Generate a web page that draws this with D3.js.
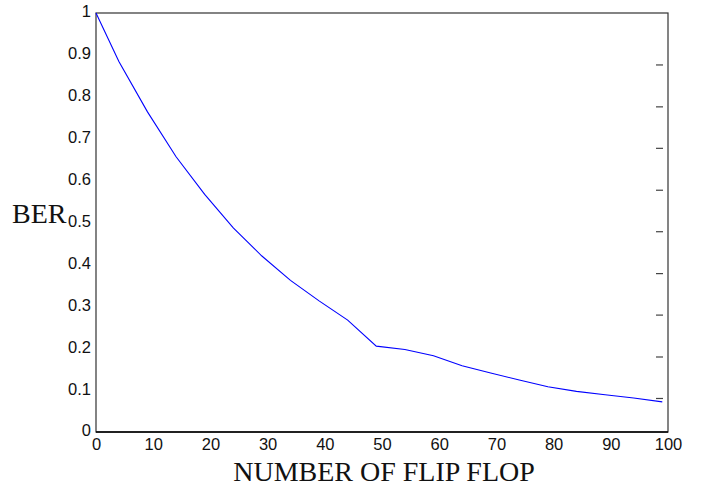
<!DOCTYPE html>
<html>
<head>
<meta charset="utf-8">
<script src="https://cdn.jsdelivr.net/npm/d3@7"></script>
<style>
  html, body { margin: 0; padding: 0; background: #fff; }
  svg { display: block; }
</style>
</head>
<body>
<svg id="chart" width="704" height="490"></svg>
<script>
const flipFlops = [0, 4, 9, 14, 19, 24, 29, 34, 39, 44, 49, 54, 59, 64, 69, 74, 79, 84, 89, 94, 99];
const berValues = [1.0, 0.884, 0.764, 0.657, 0.567, 0.487, 0.420, 0.362, 0.313, 0.267, 0.205, 0.197, 0.182, 0.158, 0.141, 0.124, 0.108, 0.097, 0.089, 0.081, 0.072];
const xTicks = [0, 10, 20, 30, 40, 50, 60, 70, 80, 90, 100];
const yTicks = [0, 0.1, 0.2, 0.3, 0.4, 0.5, 0.6, 0.7, 0.8, 0.9, 1];
const yTickLabels = ["0", "0.1", "0.2", "0.3", "0.4", "0.5", "0.6", "0.7", "0.8", "0.9", "1"];
const rightTicks = [0.080, 0.179, 0.279, 0.378, 0.478, 0.577, 0.677, 0.776, 0.876];
const xTitle = "NUMBER OF FLIP FLOP";
const yTitle = "BER";

(function () {
const svg = d3.select("#chart");
const mLeft = 96, mRight = 668, mTop = 13, mBottom = 432;

const x = d3.scaleLinear().domain([0, 100]).range([mLeft, mRight]);
const y = d3.scaleLinear().domain([0, 1]).range([mBottom, mTop]);

// frame
svg.append("rect")
  .attr("x", mLeft).attr("y", mTop)
  .attr("width", mRight - mLeft).attr("height", mBottom - mTop)
  .attr("fill", "none").attr("stroke", "#333").attr("stroke-width", 1.2);
svg.append("line")
  .attr("x1", mLeft).attr("x2", mRight).attr("y1", mBottom).attr("y2", mBottom)
  .attr("stroke", "#000").attr("stroke-width", 1.6);

// left axis labels (no tick marks)
const yAxis = d3.axisLeft(y).tickValues(yTicks).tickSize(0).tickPadding(5)
  .tickFormat((d, i) => yTickLabels[i]);
const gy = svg.append("g").attr("transform", `translate(${mLeft},0)`).call(yAxis);
gy.select(".domain").remove();
gy.selectAll("text")
  .attr("font-family", "'Liberation Sans', Arial, sans-serif")
  .attr("font-size", 16.5).attr("fill", "#111")
  .attr("dy", "0.24em");

// bottom axis labels
const xAxis = d3.axisBottom(x).tickValues(xTicks).tickSize(0).tickPadding(6);
const gx = svg.append("g").attr("transform", `translate(0,${mBottom})`).call(xAxis);
gx.select(".domain").remove();
gx.selectAll("text")
  .attr("font-family", "'Liberation Sans', Arial, sans-serif")
  .attr("font-size", 16.5).attr("fill", "#111")
  .attr("dy", "0.71em");

// right inner ticks
svg.append("g").selectAll("line").data(rightTicks).join("line")
  .attr("x1", mRight - 12).attr("x2", mRight - 5)
  .attr("y1", d => y(d)).attr("y2", d => y(d))
  .attr("stroke", "#444").attr("stroke-width", 1.2);

// curve
const line = d3.line().x((d, i) => x(flipFlops[i])).y(d => y(d));
svg.append("path")
  .datum(berValues)
  .attr("d", line)
  .attr("fill", "none")
  .attr("stroke", "#0000ff")
  .attr("stroke-width", 1.1);

// titles
svg.append("text")
  .attr("x", 12).attr("y", 223)
  .attr("font-family", "'Liberation Serif', 'Times New Roman', serif")
  .attr("font-size", 28).attr("fill", "#111")
  .text(yTitle);

svg.append("text")
  .attr("x", 384).attr("y", 481)
  .attr("text-anchor", "middle")
  .attr("font-family", "'Liberation Serif', 'Times New Roman', serif")
  .attr("font-size", 28).attr("fill", "#111")
  .text(xTitle);
})();
</script>
</body>
</html>
